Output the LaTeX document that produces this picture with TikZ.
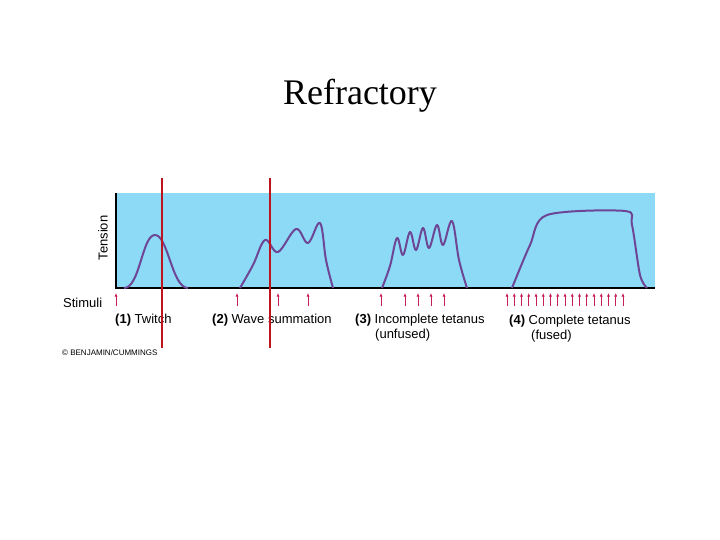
\documentclass[tikz,border=0pt]{standalone}
\usepackage{fontspec}
\setmainfont{Liberation Sans}
\newfontfamily\serifttl{Liberation Serif}
\begin{document}
\begin{tikzpicture}[x=1pt,y=-1pt,
  curve/.style={draw={rgb,255:red,110;green,70;blue,150},line width=2pt,line join=round},
  stim/.style={draw={rgb,255:red,200;green,30;blue,90},line width=1pt,-{Latex[length=3.5pt,width=3pt]}},
  redline/.style={draw={rgb,255:red,190;green,20;blue,30},line width=2.5pt},
  lbl/.style={anchor=west,inner sep=0pt,font=\fontsize{13}{14}\selectfont},
  every node/.style={inner sep=0pt}]
\usetikzlibrary{arrows.meta}
\useasboundingbox (0,0) rectangle (720,540);
\node (title) at (360,96) {\serifttl\fontsize{36}{40}\selectfont Refractory};
\fill[fill={rgb,255:red,140;green,218;blue,245}] (116,193) rectangle (655,288);
\draw[line width=1.2pt] (116,193) coordinate (ytop) -- (116,288) coordinate (o) -- (655,288) coordinate (xend);
\node[rotate=90,font=\fontsize{13}{14}\selectfont] (tension) at (103,238) {Tension};
% curves
\draw[curve] (124,288) .. controls (140,288) and (142,235) .. (155,235) .. controls (168,235) and (172,288) .. (188,288);
\draw[curve] plot[smooth,tension=0.6] coordinates {(240,288) (253,265) (265,240) (278,252) (296,229) (308,243) (320,223) (326,260) (333,288)};
\draw[curve] plot[smooth,tension=0.6] coordinates {(382,288) (390,266) (397,238) (403,255) (410,232) (416,250) (423,228) (429,248) (437,225) (443,245) (452,221) (459,260) (467,288)};
\draw[curve] plot[smooth,tension=0.5] coordinates {(512,288) (530,245) (547,215) (625,211) (632,225) (640,275) (647,288)};
% stimuli
\node[lbl] (stimuli) at (63,303) {Stimuli};
\foreach \x in {116,237,278,308,381,405,418,431,444}{\draw[stim] (\x,306) -- (\x,293);}
\foreach \i in {0,...,16}{\draw[stim] ({507+\i*7.25},306) -- ({507+\i*7.25},293);}
\node[lbl] (l1) at (115,320) {\textbf{(1)} Twitch};
\node[lbl] (l2) at (212,320) {\textbf{(2)} Wave summation};
\node[lbl] (l3) at (355,320) {\textbf{(3)} Incomplete tetanus};
\node[lbl] (l3b) at (375,335) {(unfused)};
\node[lbl] (l4) at (509,321) {\textbf{(4)} Complete tetanus};
\node[lbl] (l4b) at (531,336) {(fused)};
\node[lbl,font=\fontsize{8}{9}\selectfont] (copy) at (62,353) {© BENJAMIN/CUMMINGS};
\draw[redline] (162,178) coordinate (r1a) -- (162,348) coordinate (r1b);
\draw[redline] (270,178) coordinate (r2a) -- (270,348) coordinate (r2b);
\end{tikzpicture}
\end{document}
